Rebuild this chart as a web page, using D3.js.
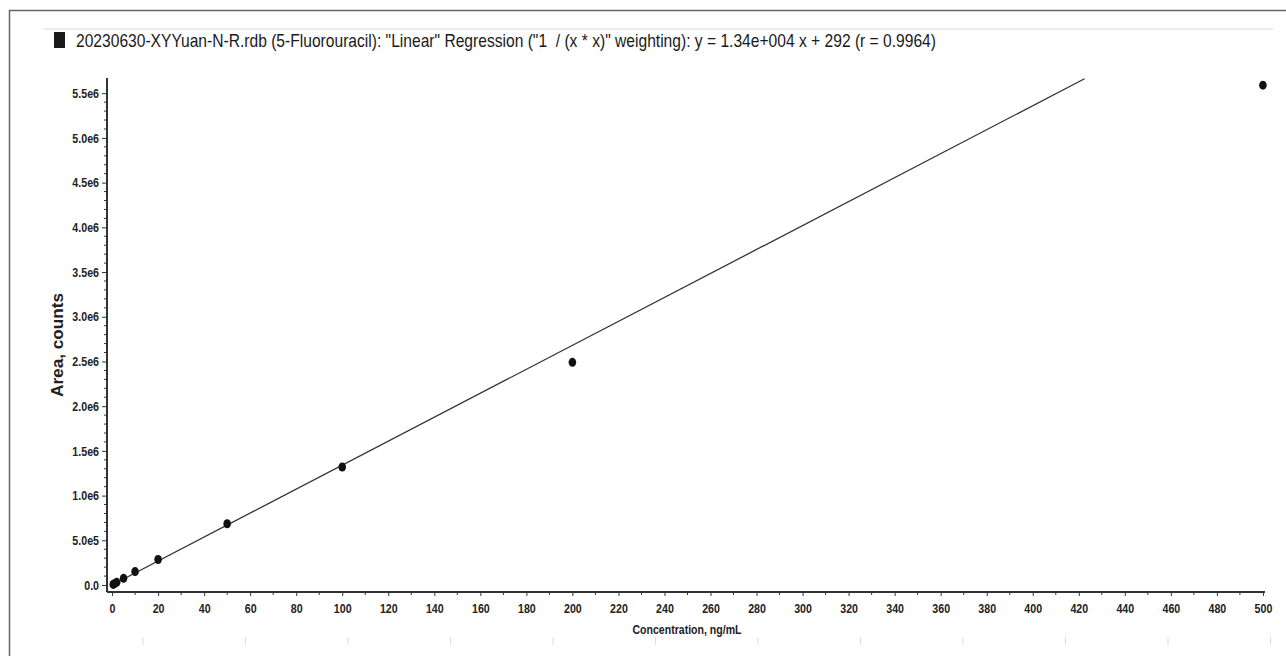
<!DOCTYPE html>
<html>
<head>
<meta charset="utf-8">
<script src="https://cdn.jsdelivr.net/npm/d3@7"></script>
<style>
  body { margin: 0; background: #fff; }
  svg { display: block; }
  .tick text { font-family: "Liberation Sans", Arial, sans-serif; font-weight: bold; font-size: 13px; fill: #222; }
</style>
</head>
<body>
<script>
// calibration standards, ng/mL vs peak area
const concentrations = [0.5, 1, 2, 5, 10, 20, 50, 100, 200, 500];
const areas = [7000, 14000, 30000, 75000, 150000, 285000, 685000, 1320000, 2490000, 5590000];
const slope = 1.34e4, intercept = 292;
const fitRange = [0, 422.5];
const xTicks = d3.range(0, 501, 20);
const yTicks = d3.range(0, 5.51e6, 5e5);
const title = "20230630-XYYuan-N-R.rdb (5-Fluorouracil): \"Linear\" Regression (\"1  / (x * x)\" weighting): y = 1.34e+004 x + 292 (r = 0.9964)";

const width = 1286, height = 656;
const squeeze = 0.82; // tick labels look like a narrow face
const svg = d3.select("body").append("svg")
    .attr("width", width)
    .attr("height", height);

// outer frame
svg.append("path")
    .attr("d", `M9.5,${height} V10.5 H${width}`)
    .attr("fill", "none")
    .attr("stroke", "#666")
    .attr("stroke-width", 1.5);

// faint header rule
svg.append("line")
    .attr("x1", 44).attr("x2", 1273)
    .attr("y1", 29).attr("y2", 29)
    .attr("stroke", "#e4e4e4").attr("stroke-width", 1.5);

// faint ruler marks at bottom
svg.append("g").selectAll("line")
    .data(d3.range(0, 12))
    .join("line")
    .attr("x1", d => 143 + d * 102.5).attr("x2", d => 143 + d * 102.5)
    .attr("y1", 637).attr("y2", 645)
    .attr("stroke", "#ddd");

svg.append("rect")
    .attr("x", 54).attr("y", 32)
    .attr("width", 11).attr("height", 16)
    .attr("fill", "#1a1a1a");

svg.append("text")
    .attr("x", 76).attr("y", 47)
    .style("white-space", "pre")
    .attr("font-family", "'Liberation Sans', Arial, sans-serif")
    .attr("font-size", 19)
    .attr("textLength", 860)
    .attr("lengthAdjust", "spacingAndGlyphs")
    .attr("fill", "#1a1a1a")
    .text(title);

const x = d3.scaleLinear().domain([-2.2, 500.9]).range([107, 1265]);
const y = d3.scaleLinear().domain([-0.078e6, 5.67e6]).range([592, 78]);

// x axis
const xAxis = svg.append("g")
    .attr("transform", "translate(0,592)")
    .call(d3.axisBottom(x).tickValues(xTicks).tickSize(4).tickPadding(8).tickFormat(d3.format("d")));
xAxis.select(".domain").attr("stroke", "#333").attr("stroke-width", 2)
    .attr("d", "M107,0H1265");
xAxis.selectAll(".tick text")
    .attr("transform", `scale(${squeeze},1)`);
xAxis.append("g").selectAll("line")
    .data(d3.range(10, 500, 20))
    .join("line")
    .attr("x1", d => x(d)).attr("x2", d => x(d))
    .attr("y1", 0).attr("y2", 3)
    .attr("stroke", "#333");

// y axis
const yAxis = svg.append("g")
    .attr("transform", "translate(107,0)")
    .call(d3.axisLeft(y).tickValues(yTicks).tickSize(5).tickPadding(3)
      .tickFormat(d => d === 0 ? "0.0" : d3.format(".1e")(d).replace("e+", "e")));
yAxis.select(".domain").attr("stroke", "#333").attr("stroke-width", 2)
    .attr("d", "M0,78V592");
yAxis.selectAll(".tick text")
    .attr("x", -8 / squeeze)
    .attr("transform", `scale(${squeeze},1)`);
yAxis.append("g").selectAll("line")
    .data(d3.range(1e5, 5.6e6, 1e5).filter(d => Math.round(d / 1e5) % 5 !== 0))
    .join("line")
    .attr("x1", -3).attr("x2", 0)
    .attr("y1", d => y(d)).attr("y2", d => y(d))
    .attr("stroke", "#333");

svg.selectAll(".tick line").attr("stroke", "#333");

// axis titles
svg.append("text")
    .attr("transform", "translate(63,345) rotate(-90)")
    .attr("text-anchor", "middle")
    .attr("font-family", "'Liberation Sans', Arial, sans-serif")
    .attr("font-weight", "bold")
    .attr("font-size", 16)
    .attr("textLength", 104)
    .attr("lengthAdjust", "spacingAndGlyphs")
    .attr("fill", "#222")
    .text("Area, counts");

svg.append("text")
    .attr("x", 687).attr("y", 634)
    .attr("text-anchor", "middle")
    .attr("font-family", "'Liberation Sans', Arial, sans-serif")
    .attr("font-weight", "bold")
    .attr("font-size", 12)
    .attr("textLength", 109)
    .attr("lengthAdjust", "spacingAndGlyphs")
    .attr("fill", "#222")
    .text("Concentration, ng/mL");

// regression line
svg.append("path")
    .datum(fitRange)
    .attr("fill", "none")
    .attr("stroke", "#333")
    .attr("stroke-width", 1.3)
    .attr("d", d3.line().x(d => x(d)).y(d => y(slope * d + intercept)));

// standards
svg.append("g").selectAll("ellipse")
    .data(concentrations.map((c, i) => ({c, a: areas[i]})))
    .join("ellipse")
    .attr("cx", d => x(d.c))
    .attr("cy", d => y(d.a))
    .attr("rx", 3.8).attr("ry", 4.5)
    .attr("fill", "#111");
</script>
</body>
</html>
